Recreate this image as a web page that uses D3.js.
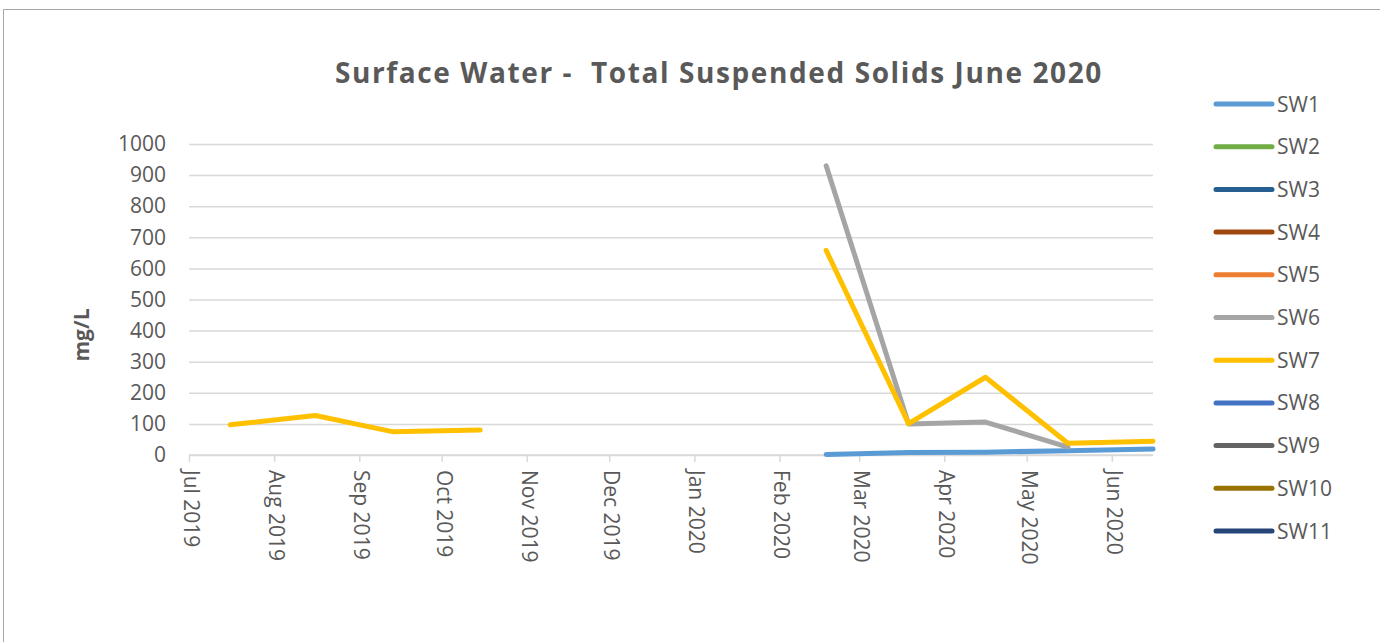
<!DOCTYPE html>
<html>
<head>
<meta charset="utf-8">
<script src="https://cdn.jsdelivr.net/npm/d3@7"></script>
<style>
  body { margin: 0; background: #fff; }
  svg { font-family: "Open Sans", sans-serif; }
</style>
</head>
<body>
<svg width="1380" height="642"></svg>
<script>
// sampling dates, one entry per column of values below (no samples Nov-Jan)
let sampleDates = ["2019-07-16", "2019-08-16", "2019-09-13", "2019-10-15",
                   "2019-11-15", "2019-12-15", "2020-01-15",
                   "2020-02-18", "2020-03-19", "2020-04-16", "2020-05-16", "2020-06-16"];

let seriesNames = ["SW1", "SW2", "SW3", "SW4", "SW5", "SW6", "SW7", "SW8", "SW9", "SW10", "SW11"];
let seriesColors = ["#5B9BD5", "#70AD47", "#255E91", "#9E480E", "#ED7D31", "#A5A5A5",
                    "#FFC000", "#4472C4", "#636363", "#997300", "#264478"];

let sw1 = [null, null, null, null, null, null, null, 2, 8, 9, 14, 19];
let sw6 = [null, null, null, null, null, null, null, 930, 100, 106, 25, null];
let sw7 = [97, 127, 75, 80, null, null, null, 658, 101, 250, 38, 44];
let empty = [null, null, null, null, null, null, null, null, null, null, null, null];
let seriesValues = [sw1, empty, empty, empty, empty, sw6, sw7, empty, empty, empty, empty];

let yTicks = [0, 100, 200, 300, 400, 500, 600, 700, 800, 900, 1000];

var parseDate = d3.timeParse("%Y-%m-%d");
var svg = d3.select("svg");

// outer frame
svg.append("path")
    .attr("d", "M3.5,642 L3.5,9.5 L1380,9.5")
    .attr("fill", "none")
    .attr("stroke", "#a6a6a6")
    .attr("stroke-width", 1);

let x = d3.scaleTime()
    .domain([parseDate("2019-07-01"), parseDate("2020-06-16")])
    .range([189, 1153]);

let y = d3.scaleLinear()
    .domain([0, 1000])
    .range([455, 144]);

// title
svg.append("text")
    .attr("x", 719)
    .attr("y", 83)
    .attr("text-anchor", "middle")
    .attr("font-size", 28)
    .attr("font-weight", "bold")
    .attr("letter-spacing", 1.6)
    .attr("fill", "#595959")
    .attr("xml:space", "preserve")
    .text("Surface Water -  Total Suspended Solids June 2020");

// gridlines + y labels
var yAxis = svg.append("g")
    .attr("transform", "translate(189,0)")
    .call(d3.axisLeft(y).tickValues(yTicks).tickSize(-964).tickPadding(23).tickFormat(d3.format("d")));
yAxis.select(".domain").remove();
yAxis.selectAll(".tick line").attr("stroke", "#d9d9d9").attr("stroke-width", 1.5);
yAxis.selectAll(".tick text")
    .attr("font-size", 21)
    .attr("fill", "#595959")
    .attr("font-family", "'Open Sans', sans-serif");

// y axis title
svg.append("text")
    .attr("transform", "translate(89,335) rotate(-90)")
    .attr("text-anchor", "middle")
    .attr("font-size", 21)
    .attr("font-weight", "bold")
    .attr("fill", "#595959")
    .text("mg/L");

// x axis
var xAxis = svg.append("g")
    .attr("transform", "translate(0,455)")
    .call(d3.axisBottom(x).ticks(d3.timeMonth.every(1)).tickSize(7).tickFormat(d3.timeFormat("%b %Y")));
xAxis.select(".domain")
    .attr("d", "M189,0H1153")
    .attr("stroke", "#d9d9d9")
    .attr("stroke-width", 1.5);
xAxis.selectAll(".tick line").attr("stroke", "#d9d9d9").attr("stroke-width", 1.5);
xAxis.selectAll(".tick text")
    .attr("font-size", 21)
    .attr("fill", "#595959")
    .attr("font-family", "'Open Sans', sans-serif")
    .attr("text-anchor", "start")
    .attr("dy", null)
    .attr("y", 0)
    .attr("x", 0)
    .attr("transform", "translate(0,15) rotate(90)")
    .attr("dominant-baseline", "middle");

// lines, drawn in series order so SW7 sits over SW6
let line = d3.line()
    .defined(d => d.v != null)
    .x(d => x(d.date))
    .y(d => y(d.v));

seriesNames.forEach(function(name, i){
    let pts = sampleDates.map((s, j) => ({date: parseDate(s), v: seriesValues[i][j]}));
    svg.append("path")
        .datum(pts)
        .attr("class", "series")
        .attr("fill", "none")
        .attr("stroke", seriesColors[i])
        .attr("stroke-width", 5)
        .attr("stroke-linecap", "round")
        .attr("stroke-linejoin", "round")
        .attr("d", line);
});

// legend
let legend = svg.append("g")
    .selectAll("g")
    .data(seriesNames)
    .enter().append("g")
    .attr("transform", (d, i) => "translate(1216," + (104 + i * 42.7) + ")");
legend.append("line")
    .attr("x1", 0).attr("x2", 56)
    .attr("stroke", (d, i) => seriesColors[i])
    .attr("stroke-width", 5)
    .attr("stroke-linecap", "round");
legend.append("text")
    .attr("x", 61)
    .attr("dy", "0.36em")
    .attr("font-size", 21)
    .attr("fill", "#595959")
    .text(d => d);
</script>
</body>
</html>
